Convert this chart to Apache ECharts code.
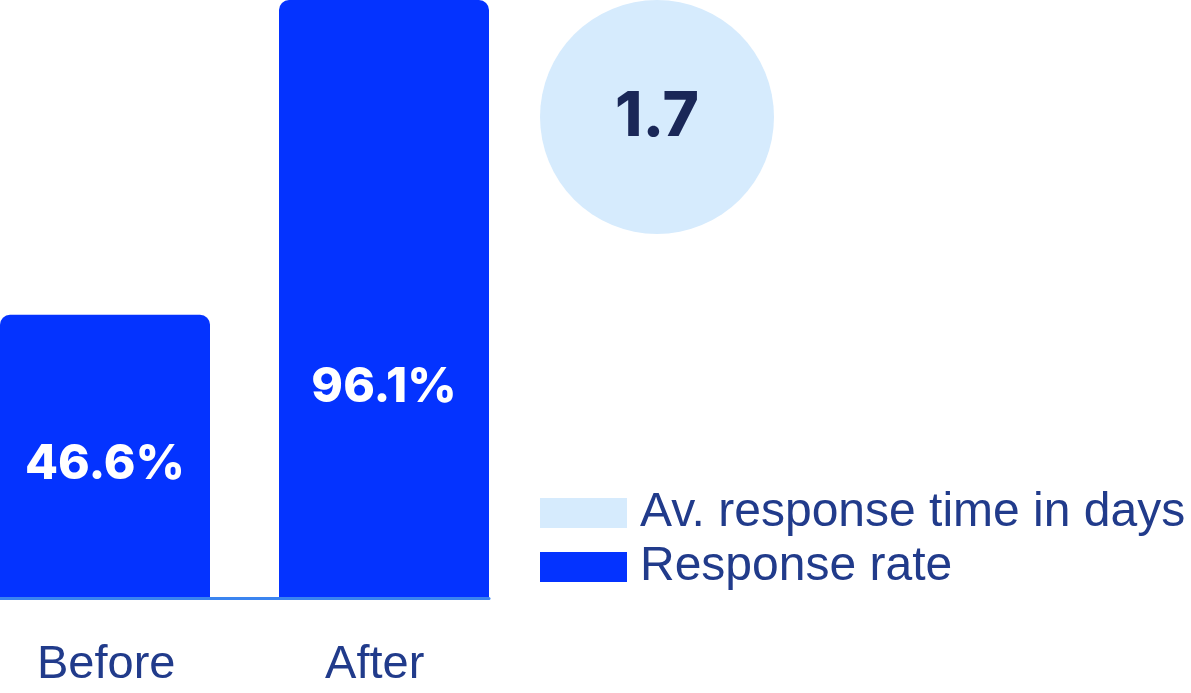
<!DOCTYPE html>
<html>
<head>
<meta charset="utf-8">
<style>
  html, body { margin: 0; padding: 0; background: #ffffff; }
  #chart { width: 1191px; height: 693px; }
</style>
<script src="https://cdn.jsdelivr.net/npm/echarts@6/dist/echarts.min.js"></script>
</head>
<body>
<div id="chart"></div>
<script>
// ---- data ----
const categories = ['Before', 'After'];
const responseRate = [46.6, 96.1];           // %
const responseRateLabels = ['46.6%', '96.1%'];
const avResponseTimeName = 'Av. response time in days';
const avResponseTime = 1.7;                  // days
const responseRateName = 'Response rate';

// ---- styles ----
const BAR_COLOR = '#0433ff';
const CIRCLE_COLOR = '#d6ebfd';
const TEXT_COLOR = '#213b8b';
const DARK_NAVY = '#1a2757';
const AXIS_COLOR = '#3b84f0';
const labelOffsetY = [8, 88];

const chart = echarts.init(document.getElementById('chart'), null, { renderer: 'canvas' });

const barSeries = categories.map((c, i) => ({
  name: responseRateName,
  type: 'bar',
  barWidth: 210,
  barGap: '-83.57%',
  itemStyle: { color: BAR_COLOR, borderRadius: [10, 10, 0, 0] },
  emphasis: { disabled: true },
  silent: true,
  label: {
    show: true,
    position: 'inside',
    color: '#ffffff',
    fontFamily: 'Inter',
    fontWeight: 800,
    fontSize: 48,
    formatter: () => responseRateLabels[i],
    offset: [0, labelOffsetY[i]]
  },
  data: categories.map((cc, j) => (j === i ? responseRate[j] : '-'))
}));

const option = {
  animation: false,
  backgroundColor: '#ffffff',
  grid: { left: 0, right: 702, top: 0, bottom: 94.5, containLabel: false },
  legend: {
    orient: 'vertical',
    left: 535,
    top: 484,
    icon: 'rect',
    itemWidth: 87,
    itemHeight: 30,
    itemGap: 6,
    selectedMode: false,
    data: [avResponseTimeName, responseRateName],
    textStyle: {
      fontFamily: 'Liberation Sans',
      fontSize: 48,
      lineHeight: 48,
      color: TEXT_COLOR,
      padding: [0, 0, 0, 8]
    }
  },
  xAxis: {
    type: 'category',
    data: categories,
    z: 3,
    axisLine: { show: true, lineStyle: { color: AXIS_COLOR, width: 3 } },
    axisTick: { show: false },
    axisLabel: {
      margin: 43,
      formatter: (v, idx) => (idx === 0 ? '{b0|' + v + '}' : '{b1|' + v + '}'),
      rich: {
        b0: { fontFamily: 'Liberation Sans', fontSize: 47, color: TEXT_COLOR, padding: [0, 32, 0, 0] },
        b1: { fontFamily: 'Liberation Sans', fontSize: 47, color: TEXT_COLOR, padding: [0, 0, 0, 16] }
      }
    }
  },
  yAxis: {
    type: 'value',
    min: 2,
    max: 96.1,
    show: false,
    splitLine: { show: false }
  },
  series: [
    ...barSeries,
    {
      name: avResponseTimeName,
      type: 'pie',
      center: [657, 117],
      radius: [0, 117],
      silent: true,
      emphasis: { disabled: true },
      labelLine: { show: false },
      label: {
        show: true,
        position: 'center',
        formatter: '{c}',
        fontFamily: 'Inter',
        fontWeight: 800,
        fontSize: 62,
        color: DARK_NAVY
      },
      itemStyle: { color: CIRCLE_COLOR },
      data: [{ name: avResponseTimeName, value: avResponseTime }]
    }
  ]
};

chart.setOption(option);
</script>
</body>
</html>
